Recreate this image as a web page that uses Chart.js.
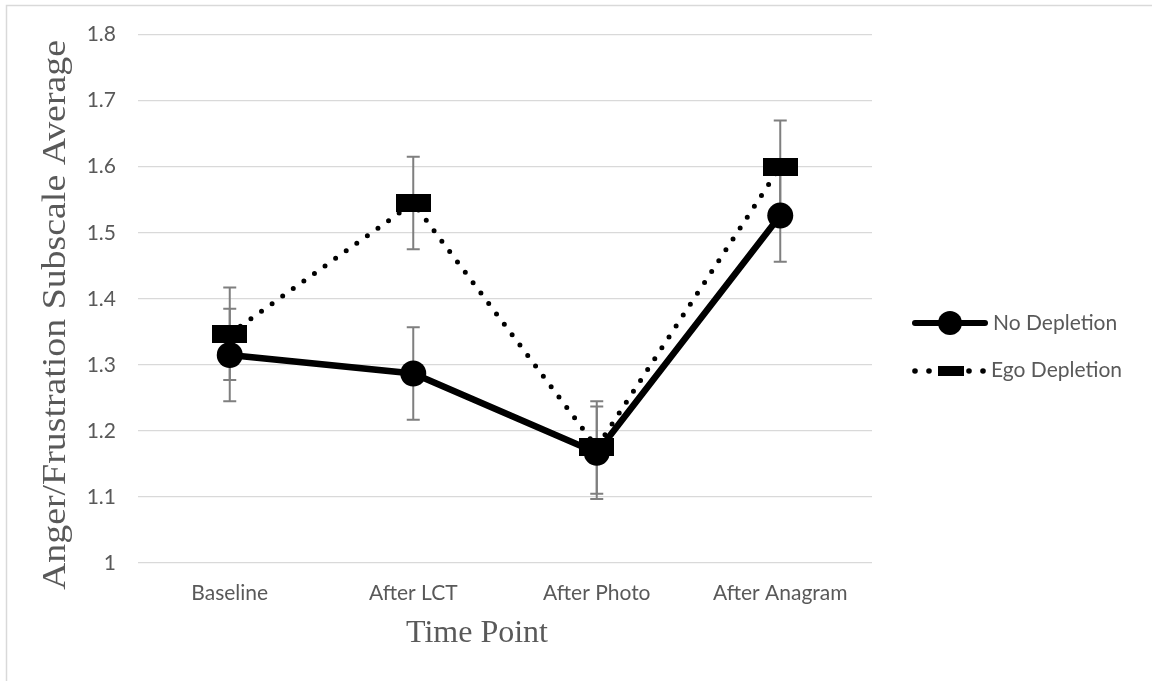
<!DOCTYPE html>
<html>
<head>
<meta charset="utf-8">
<script src="https://cdn.jsdelivr.net/npm/chart.js@4/dist/chart.umd.min.js"></script>
<style>
  html, body { margin: 0; padding: 0; background: #fff; }
  #wrap { width: 1152px; height: 681px; position: relative; }
</style>
</head>
<body>
<div id="wrap"><canvas id="chart" width="1152" height="681"></canvas></div>
<script>
// datos
const timePoints = ['Baseline', 'After LCT', 'After Photo', 'After Anagram'];
const noDepletion = [1.315, 1.287, 1.167, 1.526];
const noDepletionErr = [0.07, 0.07, 0.07, 0.07];
const egoDepletion = [1.347, 1.545, 1.175, 1.600];
const egoDepletionErr = [0.07, 0.07, 0.07, 0.07];
const yTicks = [1, 1.1, 1.2, 1.3, 1.4, 1.5, 1.6, 1.7, 1.8];

const grey = '#595959';

// marcador rectangular para "Ego Depletion"
function rectMarker(w, h) {
  const c = document.createElement('canvas');
  c.width = w; c.height = h;
  const g = c.getContext('2d');
  g.fillStyle = '#000';
  g.fillRect(0, 0, w, h);
  return c;
}
const squareMarker = rectMarker(35, 18);

// barras de error, dibujadas antes de las series
const errorBars = {
  id: 'errorBars',
  beforeDatasetsDraw(chart) {
    const { ctx, scales: { x, y } } = chart;
    const sets = [[noDepletion, noDepletionErr], [egoDepletion, egoDepletionErr]];
    ctx.save();
    ctx.strokeStyle = '#7f7f7f';
    ctx.lineWidth = 2;
    sets.forEach(([vals, errs]) => {
      vals.forEach((v, i) => {
        const px = x.getPixelForValue(i);
        const top = y.getPixelForValue(v + errs[i]);
        const bot = y.getPixelForValue(v - errs[i]);
        ctx.beginPath();
        ctx.moveTo(px, top); ctx.lineTo(px, bot);
        ctx.moveTo(px - 6.5, top); ctx.lineTo(px + 6.5, top);
        ctx.moveTo(px - 6.5, bot); ctx.lineTo(px + 6.5, bot);
        ctx.stroke();
      });
    });
    ctx.restore();
  }
};

// bordes, títulos de ejes y leyenda
const decorations = {
  id: 'decorations',
  afterDraw(chart) {
    const ctx = chart.ctx;
    ctx.save();
    // borde del área del gráfico
    ctx.strokeStyle = '#d9d9d9';
    ctx.lineWidth = 1.5;
    ctx.beginPath();
    ctx.moveTo(6.5, 681); ctx.lineTo(6.5, 5.5); ctx.lineTo(1152, 5.5);
    ctx.stroke();

    // títulos
    ctx.fillStyle = grey;
    ctx.font = '32px "Liberation Serif"';
    ctx.textAlign = 'center';
    ctx.textBaseline = 'alphabetic';
    ctx.fillText('Time Point', 477, 642);
    ctx.save();
    ctx.font = '33px "Liberation Serif"';
    const yTitle = 'Anger/Frustration Subscale Average';
    const stretch = 550 / ctx.measureText(yTitle).width;
    ctx.translate(65, 315);
    ctx.rotate(-Math.PI / 2);
    ctx.scale(stretch, 1);
    ctx.fillText(yTitle, 0, 0);
    ctx.restore();

    // leyenda
    ctx.strokeStyle = '#000';
    ctx.fillStyle = '#000';
    ctx.lineCap = 'round';
    ctx.lineWidth = 6;
    ctx.beginPath();
    ctx.moveTo(915, 323); ctx.lineTo(985, 323);
    ctx.stroke();
    ctx.beginPath();
    ctx.arc(950, 323, 12, 0, Math.PI * 2);
    ctx.fill();
    [915, 929, 969, 983].forEach(dx => {
      ctx.beginPath();
      ctx.arc(dx, 371, 2.8, 0, Math.PI * 2);
      ctx.fill();
    });
    ctx.fillRect(938, 366, 26, 10);

    ctx.fillStyle = grey;
    ctx.font = '21px Lato';
    ctx.textAlign = 'left';
    ctx.textBaseline = 'middle';
    ctx.fillText('No Depletion', 993, 323);
    ctx.fillText('Ego Depletion', 991, 370);
    ctx.restore();
  }
};

Chart.defaults.font.family = 'Lato';
Chart.defaults.color = grey;

new Chart(document.getElementById('chart').getContext('2d'), {
  type: 'line',
  data: {
    labels: timePoints,
    datasets: [
      {
        label: 'No Depletion',
        data: noDepletion,
        borderColor: '#000',
        backgroundColor: '#000',
        borderWidth: 6.5,
        tension: 0,
        pointStyle: 'circle',
        pointRadius: 13,
        pointHoverRadius: 13,
        pointBorderWidth: 0
      },
      {
        label: 'Ego Depletion',
        data: egoDepletion,
        borderColor: '#000',
        backgroundColor: '#000',
        borderWidth: 5,
        borderDash: [0, 13],
        borderCapStyle: 'round',
        tension: 0,
        pointStyle: squareMarker,
        pointRadius: 13,
        pointHoverRadius: 13
      }
    ]
  },
  options: {
    responsive: false,
    animation: false,
    events: [],
    layout: { padding: { top: 34, right: 280, left: 0, bottom: 0 } },
    plugins: {
      legend: { display: false },
      tooltip: { enabled: false }
    },
    scales: {
      x: {
        offset: true,
        grid: { display: false, drawTicks: false },
        border: { display: false },
        ticks: { font: { size: 21 }, color: grey, padding: 18 },
        afterFit: (s) => { s.height = 118; }
      },
      y: {
        min: 1,
        max: 1.8,
        afterBuildTicks: (s) => { s.ticks = yTicks.map(v => ({ value: v })); },
        grid: { color: '#d9d9d9', lineWidth: 1.3, drawTicks: false },
        border: { display: false },
        ticks: {
          font: { size: 21 },
          color: grey,
          padding: 22,
          callback: (v) => String(Number(v.toFixed(1)))
        },
        afterFit: (s) => { s.width = 138; }
      }
    }
  },
  plugins: [errorBars, decorations]
});
</script>
</body>
</html>
